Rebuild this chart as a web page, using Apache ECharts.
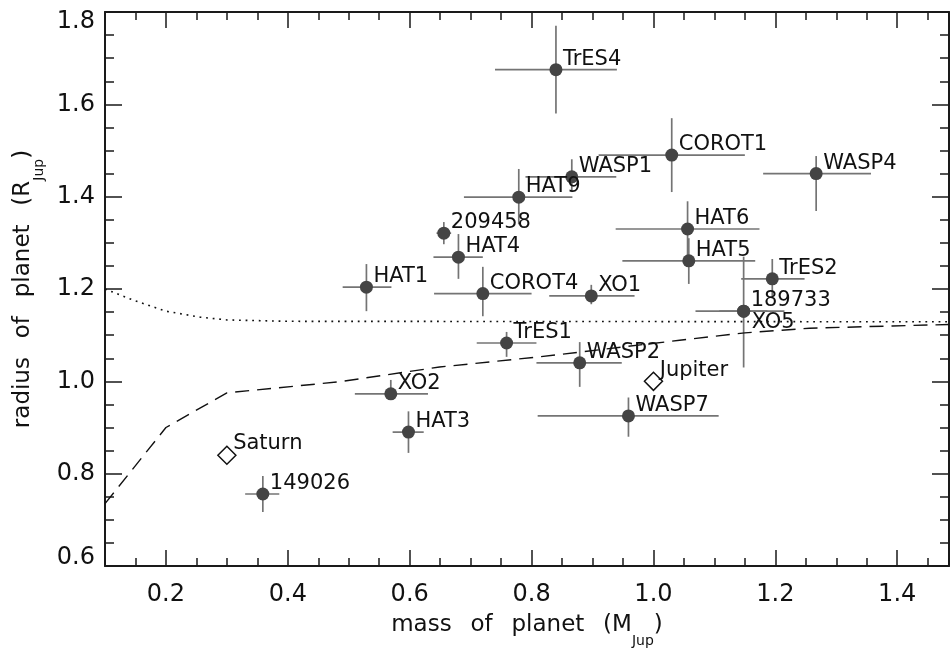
<!DOCTYPE html>
<html><head><meta charset="utf-8">
<script src="https://cdn.jsdelivr.net/npm/echarts@6/dist/echarts.min.js"></script>
<style>html,body{margin:0;padding:0;background:#fff}#c{width:950px;height:651px}</style>
</head><body><div id="c"></div>
<script>
// ---------- data ----------
const planetNames = ['TrES4','WASP1','HAT9','209458','HAT4','HAT1','COROT4','XO1','COROT1','WASP4','HAT6','HAT5','TrES2','189733','XO5','TrES1','WASP2','XO2','HAT3','WASP7','149026'];
const planetMass   = [0.84, 0.866, 0.779, 0.656, 0.68, 0.529, 0.72, 0.898, 1.03, 1.267, 1.056, 1.058, 1.195, 1.148, 1.148, 0.759, 0.879, 0.569, 0.598, 0.959, 0.359];
const planetRadius = [1.675, 1.443, 1.399, 1.321, 1.269, 1.204, 1.19, 1.185, 1.49, 1.45, 1.33, 1.261, 1.222, 1.152, 1.152, 1.083, 1.04, 0.973, 0.89, 0.925, 0.756];
const massLow      = [0.74, 0.79, 0.689, 0.644, 0.639, 0.49, 0.64, 0.829, 0.91, 1.18, 0.938, 0.949, 1.144, 1.069, 1.108, 0.71, 0.808, 0.51, 0.572, 0.81, 0.33];
const massHigh     = [0.94, 0.939, 0.867, 0.668, 0.72, 0.57, 0.80, 0.969, 1.15, 1.357, 1.174, 1.167, 1.248, 1.187, 1.215, 0.808, 0.948, 0.63, 0.623, 1.107, 0.386];
const radiusLow    = [1.58, 1.41, 1.34, 1.297, 1.222, 1.152, 1.141, 1.167, 1.41, 1.369, 1.27, 1.211, 1.18, 1.152, 1.03, 1.053, 0.988, 0.96, 0.845, 0.88, 0.717];
const radiusHigh   = [1.77, 1.481, 1.46, 1.345, 1.319, 1.254, 1.248, 1.209, 1.57, 1.488, 1.39, 1.31, 1.265, 1.152, 1.27, 1.107, 1.085, 1.003, 0.935, 0.965, 0.795];

const solarNames  = ['Jupiter','Saturn'];
const solarMass   = [1.0, 0.3];
const solarRadius = [1.0, 0.84];

const dottedMass   = [0.1, 0.146, 0.2, 0.256, 0.3, 0.4, 1.485];
const dottedRadius = [1.2, 1.176, 1.152, 1.139, 1.133, 1.13, 1.129];
const dashedMass   = [0.1, 0.2, 0.3, 0.484, 0.649, 0.813, 1.043, 1.15, 1.256, 1.392, 1.485];
const dashedRadius = [0.735, 0.9, 0.975, 0.999, 1.031, 1.053, 1.089, 1.105, 1.115, 1.12, 1.123];

const xTickLabels = [0.2, 0.4, 0.6, 0.8, 1.0, 1.2, 1.4];
const yTickLabels = [0.6, 0.8, 1.0, 1.2, 1.4, 1.6, 1.8];

// ---------- styles ----------
const FONT = 'DejaVu Sans';
const AX = '#1a1a1a';
const SP = ' \u2002';
const belowLabels = {XO5: true};

const titleRich = {
  a: {fontSize: 23, fontFamily: FONT, color: '#111', lineHeight: 26, verticalAlign: 'top'},
  s: {fontSize: 14, fontFamily: FONT, color: '#111', lineHeight: 14, verticalAlign: 'top', padding: [20, 0, 0, 0]}
};

function xAxisDef(pos, major, showLabel, name) {
  const a = {
    type: 'value', min: 0.1, max: 1.485, position: pos, gridIndex: 0,
    splitLine: {show: false},
    axisLine: {show: major, onZero: false, lineStyle: {color: AX, width: 2}},
    axisTick: {show: true, inside: true, length: major ? 16 : 8, lineStyle: {color: AX, width: 1.5}},
    axisLabel: {show: false}
  };
  if (major) {
    a.axisTick.customValues = xTickLabels;
    a.axisLabel = {show: showLabel, customValues: xTickLabels, formatter: v => v.toFixed(1),
      fontSize: 24, fontFamily: FONT, color: '#111', margin: 17};
  } else {
    a.interval = 0.05;
  }
  if (name) {
    a.name = '{a|mass' + SP + 'of' + SP + 'planet' + SP + '(M}{s|Jup}{a|)}';
    a.nameLocation = 'middle';
    a.nameGap = 48;
    a.nameTextStyle = {rich: titleRich};
  }
  return a;
}
function yAxisDef(pos, major, showLabel, name) {
  const a = {
    type: 'value', min: 0.6, max: 1.8, position: pos, gridIndex: 0,
    splitLine: {show: false},
    axisLine: {show: major, onZero: false, lineStyle: {color: AX, width: 2}},
    axisTick: {show: true, inside: true, length: major ? 17 : 9, lineStyle: {color: AX, width: 1.5}},
    axisLabel: {show: false}
  };
  if (major) {
    a.axisTick.customValues = yTickLabels;
    a.axisLabel = {show: showLabel, customValues: yTickLabels,
      formatter: v => Math.abs(v - 1.8) < 1e-6 ? '{t|1.8}' : (Math.abs(v - 0.6) < 1e-6 ? '{b|0.6}' : '{n|' + v.toFixed(1) + '}'),
      fontSize: 24, fontFamily: FONT, color: '#111', margin: 10,
      rich: {
        n: {fontSize: 24, fontFamily: FONT, color: '#111'},
        t: {fontSize: 24, fontFamily: FONT, color: '#111', padding: [20, 0, 0, 0]},
        b: {fontSize: 24, fontFamily: FONT, color: '#111', padding: [0, 0, 16, 0]}
      }};
  } else {
    a.interval = 0.05;
  }
  if (name) {
    a.name = '{a|radius' + SP + 'of' + SP + 'planet' + SP + '(R}{s|Jup}{a|)}';
    a.nameLocation = 'middle';
    a.nameGap = 51;
    a.nameTextStyle = {rich: titleRich};
  }
  return a;
}

const planetData = planetNames.map((n, i) => ({
  name: n, value: [planetMass[i], planetRadius[i]],
  label: belowLabels[n] ? {position: [14.5, 7.5], verticalAlign: 'top'} : {position: [13.5, 6.5], verticalAlign: 'bottom'}
}));
const errData = planetNames.map((n, i) => [planetMass[i], planetRadius[i], massLow[i], massHigh[i], radiusLow[i], radiusHigh[i]]);
const solarData = solarNames.map((n, i) => ({name: n, value: [solarMass[i], solarRadius[i]]}));

const option = {
  animation: false,
  backgroundColor: '#fff',
  grid: {left: 105, right: 1, top: 12, bottom: 85, containLabel: false, outerBoundsMode: 'none'},
  xAxis: [
    xAxisDef('bottom', true, true, true),
    xAxisDef('bottom', false, false, false),
    xAxisDef('top', true, false, false),
    xAxisDef('top', false, false, false)
  ],
  yAxis: [
    yAxisDef('left', true, true, true),
    yAxisDef('left', false, false, false),
    yAxisDef('right', true, false, false),
    yAxisDef('right', false, false, false)
  ],
  series: [
    {
      type: 'line', name: 'dotted', xAxisIndex: 0, yAxisIndex: 0,
      data: dottedMass.map((m, i) => [m, dottedRadius[i]]),
      symbol: 'none', smooth: false, silent: true,
      lineStyle: {color: '#111', width: 1.6, type: [1.8, 4.8]}
    },
    {
      type: 'line', name: 'dashed', xAxisIndex: 0, yAxisIndex: 0,
      data: dashedMass.map((m, i) => [m, dashedRadius[i]]),
      symbol: 'none', smooth: false, silent: true,
      lineStyle: {color: '#111', width: 1.4, type: [14, 8]}
    },
    {
      type: 'custom', name: 'errors', xAxisIndex: 0, yAxisIndex: 0,
      data: errData, clip: true, silent: true, z: 3,
      encode: {x: [0, 2, 3], y: [1, 4, 5]},
      renderItem: function (params, api) {
        const l = api.coord([api.value(2), api.value(1)]);
        const r = api.coord([api.value(3), api.value(1)]);
        const b = api.coord([api.value(0), api.value(4)]);
        const t = api.coord([api.value(0), api.value(5)]);
        const st = {stroke: '#747474', lineWidth: 1.7};
        return {type: 'group', children: [
          {type: 'line', shape: {x1: l[0], y1: l[1], x2: r[0], y2: r[1]}, style: st},
          {type: 'line', shape: {x1: b[0], y1: b[1], x2: t[0], y2: t[1]}, style: st}
        ]};
      }
    },
    {
      type: 'scatter', name: 'planets', xAxisIndex: 0, yAxisIndex: 0, z: 5,
      symbol: 'circle', symbolSize: 13,
      itemStyle: {color: '#444', opacity: 1},
      label: {show: true, formatter: '{b}', align: 'left', fontSize: 21, fontFamily: FONT, color: '#111'},
      data: planetData
    },
    {
      type: 'scatter', name: 'solar', xAxisIndex: 0, yAxisIndex: 0, z: 5,
      symbol: 'diamond', symbolSize: 18,
      itemStyle: {color: '#fff', borderColor: '#111', borderWidth: 1.5, opacity: 1},
      label: {show: true, formatter: '{b}', position: [16, 9], align: 'left', verticalAlign: 'bottom', fontSize: 21, fontFamily: FONT, color: '#111'},
      data: solarData
    }
  ]
};
const chart = echarts.init(document.getElementById('c'), null, {renderer: 'canvas'});
chart.setOption(option);
</script>
</body></html>
